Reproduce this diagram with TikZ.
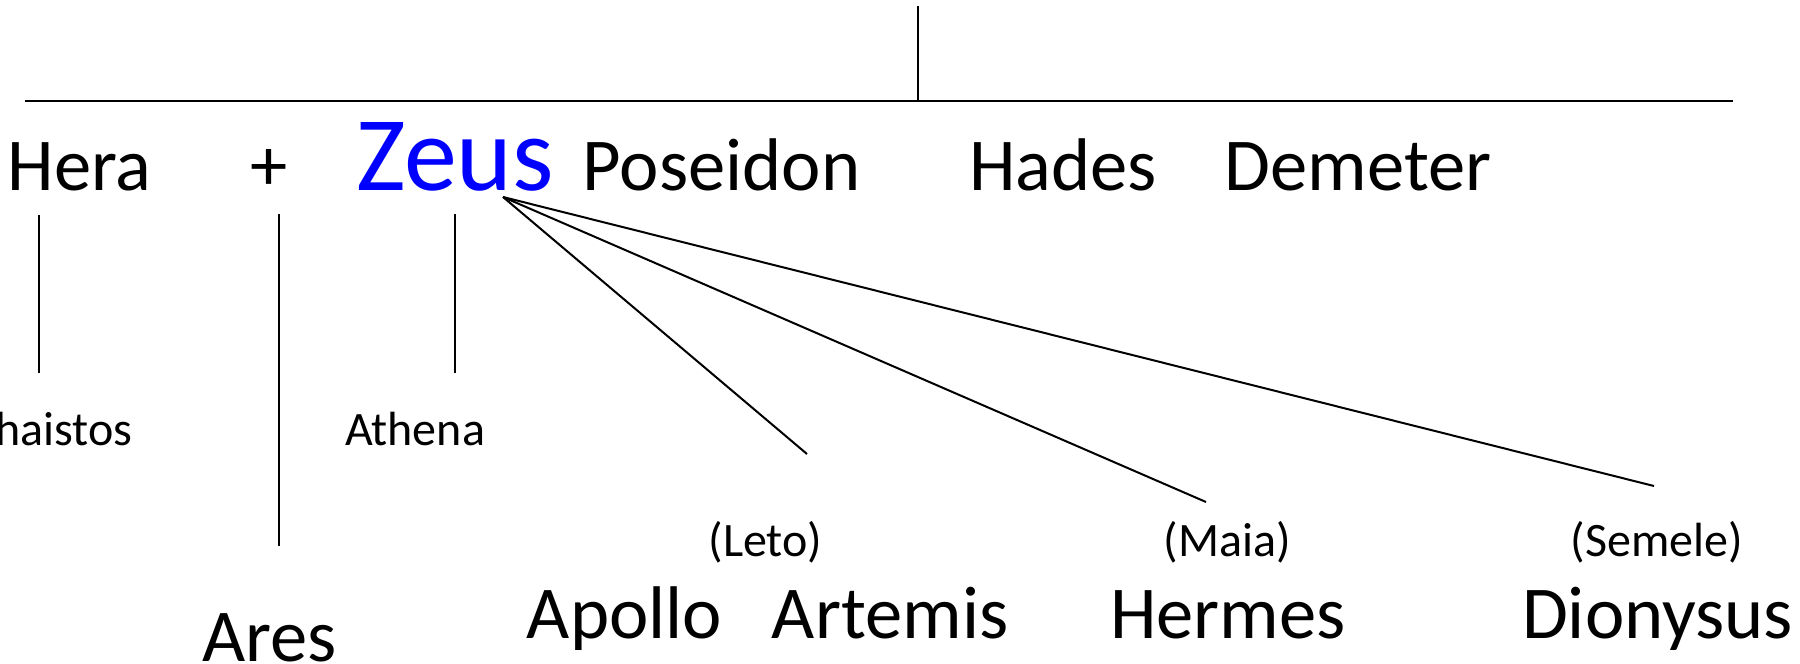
\documentclass[tikz,border=0pt]{standalone}
\usepackage{fontspec}
\setmainfont{Carlito}
\definecolor{zeusblue}{RGB}{0,0,255}
\tikzset{
  big/.style={inner sep=0pt, font=\fontsize{37.3}{42}\selectfont, anchor=base},
  small/.style={inner sep=0pt, font=\fontsize{24}{28}\selectfont, anchor=base},
  zeusstyle/.style={inner sep=0pt, font=\fontsize{53}{60}\selectfont, anchor=base, text=zeusblue},
  link/.style={line width=1pt, black},
}
\begin{document}
\begin{tikzpicture}[x=0.5pt,y=-0.5pt]
\clip (0,0) rectangle (1800,664);
\fill[white] (0,0) rectangle (1800,664);
% top row
\node[big] (hera) at (79.5,190) {Hera};
\node[big] (plus) at (269,190) {+};
\node[zeusstyle] (zeus) at (455,190) {Zeus};
\node[big] (poseidon) at (721.5,190) {Poseidon};
\node[big] (hades) at (1063,190) {Hades};
\node[big] (demeter) at (1358,190) {Demeter};
% middle row
\node[small, anchor=base east] (hephaistos) at (133,445) {Hephaistos};
\node[small] (athena) at (415,445) {Athena};
\node[small] (leto) at (765.5,556) {(Leto)};
\node[small] (maia) at (1227.5,556) {(Maia)};
\node[small] (semele) at (1657,556) {(Semele)};
% bottom row
\node[big] (apollo) at (624.5,638) {Apollo};
\node[big] (artemis) at (890,638) {Artemis};
\node[big] (hermes) at (1228,638) {Hermes};
\node[big] (dionysus) at (1657.5,638) {Dionysus};
\node[big] (ares) at (269.5,661) {Ares};
% connector points
\coordinate (parenttop) at (918,6);
\coordinate (parentbar) at (918,101);
\coordinate (barleft) at (25,101);
\coordinate (barright) at (1733,101);
\coordinate (herastart) at (39,215);
\coordinate (heraend) at (39,373);
\coordinate (aresstart) at (279,214);
\coordinate (aresend) at (279,546);
\coordinate (athenastart) at (455,214);
\coordinate (athenaend) at (455,373);
\coordinate (zeusfork) at (503,197);
\coordinate (apolloend) at (807,454);
\coordinate (hermesend) at (1206,502);
\coordinate (dionysusend) at (1654,486);
% lines
\draw[link] (parenttop) -- (parentbar);
\draw[link, line width=1.2pt] (barleft) -- (barright);
\draw[link] (herastart) -- (heraend);
\draw[link] (aresstart) -- (aresend);
\draw[link] (athenastart) -- (athenaend);
\draw[link] (zeusfork) -- (apolloend);
\draw[link] (zeusfork) -- (hermesend);
\draw[link] (zeusfork) -- (dionysusend);
\end{tikzpicture}
\end{document}
